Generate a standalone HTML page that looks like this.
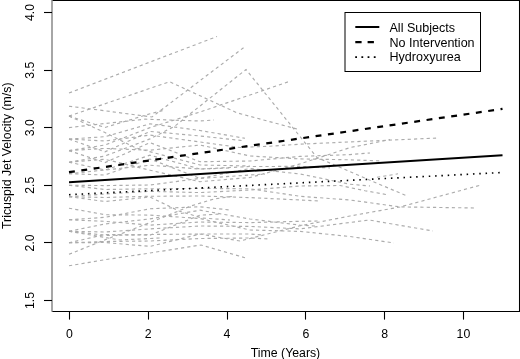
<!DOCTYPE html><html><head><meta charset="utf-8"><style>html,body{margin:0;padding:0;background:#fff;width:520px;height:359px;overflow:hidden}svg{display:block;will-change:transform;filter:blur(0.35px)}text{font-family:"Liberation Sans",sans-serif;fill:#000}</style></head><body>
<svg width="520" height="359" viewBox="0 0 520 359">
<g fill="none" stroke="#acacac" stroke-width="1.15" stroke-dasharray="3.2 3.1">
<polyline points="69.0,93.0 217.0,36.5"/>
<polyline points="69.0,106.2 105.0,110.8 152.0,117.0 245.0,46.6"/>
<polyline points="69.0,116.1 169.5,81.7 237.0,112.8 297.0,129.0"/>
<polyline points="69.0,116.1 105.0,132.6 136.0,148.0 200.0,165.0 250.0,166.0"/>
<polyline points="69.0,127.6 105.0,123.5 145.0,119.2 200.0,121.0 214.0,120.0"/>
<polyline points="69.0,150.6 105.0,145.0 150.0,127.6 200.0,112.0 250.0,95.0 289.0,81.5"/>
<polyline points="69.0,162.2 105.0,156.0 150.0,138.9 175.0,126.0 200.0,106.0 246.0,69.5 300.0,136.5 317.0,157.5 350.0,171.7 407.0,196.0"/>
<polyline points="69.0,139.1 105.0,141.0 150.0,135.1 200.0,142.0 240.0,147.5 270.0,146.2 300.0,144.2 350.0,141.9 438.0,138.0"/>
<polyline points="69.0,162.2 105.0,159.3 150.0,170.2 200.0,181.7 250.0,177.5 300.0,163.9 350.0,147.6 390.0,139.6"/>
<polyline points="69.0,150.6 105.0,148.4 150.0,150.2 200.0,145.0 250.0,156.0 300.0,158.9 350.0,159.8 382.0,161.0"/>
<polyline points="69.0,185.2 105.0,189.5 150.0,188.8 200.0,188.4 250.0,188.8 300.0,196.3 350.0,200.0 400.0,206.9 475.0,208.0"/>
<polyline points="69.0,242.8 105.0,242.5 150.0,246.4 200.0,234.0 240.0,241.0 300.0,225.8 350.0,216.0 400.0,207.0 481.0,185.0"/>
<polyline points="69.0,231.3 105.0,232.0 150.0,228.9 200.0,226.0 250.0,226.4 300.0,228.9 369.0,220.0 433.0,231.0"/>
<polyline points="69.0,208.2 105.0,214.7 150.0,215.1 200.0,218.5 250.0,230.0 300.0,231.4 350.0,236.5 394.0,243.0"/>
<polyline points="69.0,265.8 105.0,259.7 150.0,253.0 201.0,245.0 245.0,257.7"/>
<polyline points="69.0,254.3 106.0,239.4 131.0,230.0 167.7,215.4 190.8,206.0 214.0,199.0 235.0,196.0"/>
<polyline points="377.0,177.3 398.0,173.8"/>
<polyline points="69.0,116.1 105.0,127.5 150.0,113.8 165.0,110.0"/>
<polyline points="69.0,139.1 105.0,136.7 150.0,123.8 200.0,130.5 245.0,138.3"/>
<polyline points="69.0,139.1 105.0,151.8 150.0,131.4 200.0,136.0 244.0,140.8"/>
<polyline points="69.0,150.6 105.0,162.6 150.0,142.6 200.0,161.7 250.0,161.0 300.0,156.4 350.0,154.6 370.0,153.0"/>
<polyline points="69.0,162.2 105.0,170.0 150.0,155.2 200.0,169.0 250.0,166.5 300.0,166.4 330.0,168.0"/>
<polyline points="69.0,173.7 105.0,175.0 150.0,159.0 200.0,178.4 250.0,168.5 300.0,174.0 350.0,184.2 370.0,186.0"/>
<polyline points="69.0,185.2 105.0,185.6 150.0,185.0 200.0,178.4 250.0,175.0 265.0,174.0"/>
<polyline points="69.0,196.7 105.0,194.0 150.0,191.3 200.0,192.6 250.0,190.0 300.0,186.0 340.0,185.5 365.0,190.7 389.0,195.0"/>
<polyline points="69.0,196.7 105.0,197.5 150.0,196.3 200.0,196.0 250.0,197.6 300.0,200.0 320.0,201.0"/>
<polyline points="69.0,196.7 105.0,201.5 150.0,197.0 179.0,211.0 202.0,218.0 230.0,220.0"/>
<polyline points="69.0,231.3 107.0,235.4 150.0,234.5 205.0,234.0 250.0,234.0 262.0,235.0"/>
<polyline points="69.0,219.8 105.0,217.3 150.0,208.8 200.0,206.8 230.0,210.0"/>
<polyline points="69.0,231.3 105.0,224.0 150.0,218.9 200.0,210.2 250.0,219.0 300.0,225.1 315.0,226.0"/>
<polyline points="69.0,242.8 105.0,234.5 150.0,235.1 200.0,215.2 220.0,214.0"/>
<polyline points="69.0,242.8 105.0,241.5 150.0,241.0 200.0,238.5 250.0,238.0 270.0,239.0"/>
<polyline points="69.0,219.8 105.0,221.3 150.0,225.1 200.0,222.0 250.0,222.6 300.0,221.3 320.0,221.0"/>
<polyline points="69.0,231.3 120.0,240.0 160.0,238.0"/>
<polyline points="69.0,173.7 105.0,170.0 150.0,165.2 200.0,169.0 230.0,168.0"/>
</g>
<line x1="69" y1="182.2" x2="502.5" y2="155.3" stroke="#000" stroke-width="2"/>
<line x1="69" y1="172.2" x2="502.5" y2="108.9" stroke="#000" stroke-width="2.2" stroke-dasharray="5.9 6.56"/>
<line x1="69" y1="194.7" x2="502.5" y2="172.5" stroke="#000" stroke-width="1.65" stroke-dasharray="1.5 4.82"/>
<path d="M52,0.5 H519.5 V311.5 H52" fill="none" stroke="#000" stroke-width="1.05"/>
<line x1="52" y1="0" x2="52" y2="311.8" stroke="#888" stroke-width="1.5"/>
<line x1="69.5" y1="311" x2="69.5" y2="319.6" stroke="#000" stroke-width="1.1"/>
<text x="69.4" y="338.1" font-size="12.3" text-anchor="middle">0</text>
<line x1="148.5" y1="311" x2="148.5" y2="319.6" stroke="#000" stroke-width="1.1"/>
<text x="148.2" y="338.1" font-size="12.3" text-anchor="middle">2</text>
<line x1="227.5" y1="311" x2="227.5" y2="319.6" stroke="#000" stroke-width="1.1"/>
<text x="227.0" y="338.1" font-size="12.3" text-anchor="middle">4</text>
<line x1="305.5" y1="311" x2="305.5" y2="319.6" stroke="#000" stroke-width="1.1"/>
<text x="305.8" y="338.1" font-size="12.3" text-anchor="middle">6</text>
<line x1="384.5" y1="311" x2="384.5" y2="319.6" stroke="#000" stroke-width="1.1"/>
<text x="384.6" y="338.1" font-size="12.3" text-anchor="middle">8</text>
<line x1="463.5" y1="311" x2="463.5" y2="319.6" stroke="#000" stroke-width="1.1"/>
<text x="463.4" y="338.1" font-size="12.3" text-anchor="middle">10</text>
<line x1="44" y1="300.5" x2="52" y2="300.5" stroke="#000" stroke-width="1.1"/>
<text transform="translate(34.2,300.5) rotate(-90)" x="0" y="0" font-size="12.3" text-anchor="middle">1.5</text>
<line x1="44" y1="242.5" x2="52" y2="242.5" stroke="#000" stroke-width="1.1"/>
<text transform="translate(34.2,242.9) rotate(-90)" x="0" y="0" font-size="12.3" text-anchor="middle">2.0</text>
<line x1="44" y1="185.5" x2="52" y2="185.5" stroke="#000" stroke-width="1.1"/>
<text transform="translate(34.2,185.3) rotate(-90)" x="0" y="0" font-size="12.3" text-anchor="middle">2.5</text>
<line x1="44" y1="127.5" x2="52" y2="127.5" stroke="#000" stroke-width="1.1"/>
<text transform="translate(34.2,127.7) rotate(-90)" x="0" y="0" font-size="12.3" text-anchor="middle">3.0</text>
<line x1="44" y1="70.5" x2="52" y2="70.5" stroke="#000" stroke-width="1.1"/>
<text transform="translate(34.2,70.1) rotate(-90)" x="0" y="0" font-size="12.3" text-anchor="middle">3.5</text>
<line x1="44" y1="12.5" x2="52" y2="12.5" stroke="#000" stroke-width="1.1"/>
<text transform="translate(34.2,12.5) rotate(-90)" x="0" y="0" font-size="12.3" text-anchor="middle">4.0</text>
<text x="285.5" y="356.8" font-size="12.3" text-anchor="middle">Time (Years)</text>
<text transform="translate(10.6,155.7) rotate(-90)" font-size="12.3" text-anchor="middle">Tricuspid Jet Velocity (m/s)</text>
<rect x="345" y="12.5" width="135.5" height="59" fill="#fff" stroke="#000" stroke-width="1"/>
<line x1="355.3" y1="27" x2="379.3" y2="27" stroke="#000" stroke-width="2"/>
<line x1="355.3" y1="42.1" x2="379.3" y2="42.1" stroke="#000" stroke-width="2.2" stroke-dasharray="6.3 6"/>
<line x1="355.2" y1="57.2" x2="379.3" y2="57.2" stroke="#000" stroke-width="1.75" stroke-dasharray="1.8 4.4"/>
<text x="389.5" y="31.9" font-size="12.55">All Subjects</text>
<text x="389.5" y="46.8" font-size="12.55">No Intervention</text>
<text x="389.5" y="61.3" font-size="12.55">Hydroxyurea</text>
</svg></body></html>
